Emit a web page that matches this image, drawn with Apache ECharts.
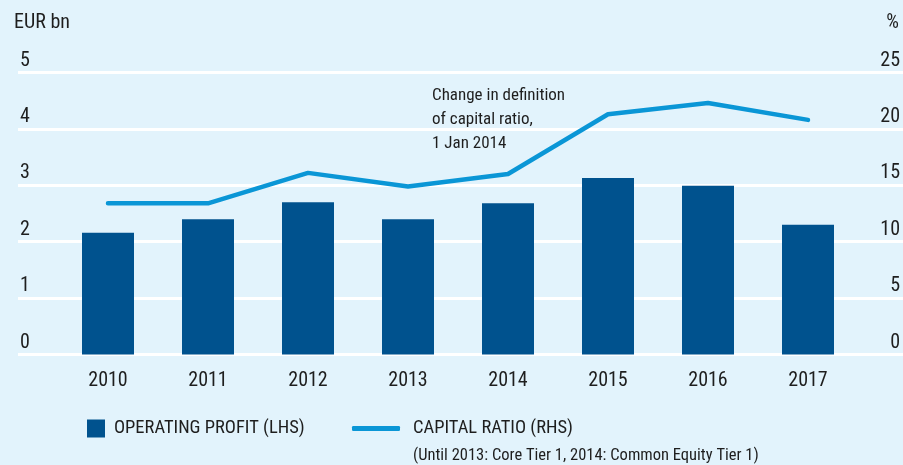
<!DOCTYPE html>
<html>
<head>
<meta charset="utf-8">
<script src="https://cdn.jsdelivr.net/npm/echarts@6/dist/echarts.min.js"></script>
<style>
  html, body { margin: 0; padding: 0; background: #e2f3fc; }
  #chart { width: 903px; height: 465px; }
</style>
</head>
<body>
<div id="chart"></div>
<script>
const years = ['2010', '2011', '2012', '2013', '2014', '2015', '2016', '2017'];
const operatingProfit = [2.16, 2.40, 2.70, 2.40, 2.68, 3.13, 2.99, 2.30];
const capitalRatio = [13.4, 13.4, 16.1, 14.9, 16.0, 21.3, 22.3, 20.8];

const FONT = "'Roboto Condensed', 'DejaVu Sans Condensed', 'Liberation Sans Narrow', Roboto, sans-serif";
const TEXT = '#1e1e1e';
const BAR = '#00528e';
const LINE = '#0a96d6';

const chart = echarts.init(document.getElementById('chart'));

const option = {
  backgroundColor: '#e2f3fc',
  textStyle: { fontFamily: FONT, color: TEXT },
  animation: false,
  grid: [
    // data grid
    { left: 58, right: 45, top: 72.5, bottom: 110.5 },
    // background grid: gridlines + value labels span the full width
    { left: 18, right: 0, top: 72.5, bottom: 110.5 }
  ],
  xAxis: [
    {
      type: 'category',
      gridIndex: 0,
      data: years,
      axisLine: { show: false },
      axisTick: { show: false },
      axisLabel: { color: TEXT, fontFamily: FONT, fontSize: 20, margin: 16 }
    },
    { type: 'value', gridIndex: 1, min: 0, max: 1, show: false }
  ],
  yAxis: [
    { type: 'value', gridIndex: 0, min: 0, max: 5, interval: 1, show: false },
    { type: 'value', gridIndex: 0, min: 0, max: 25, interval: 5, show: false },
    {
      type: 'value', gridIndex: 1, min: 0, max: 5, interval: 1,
      axisLine: { show: false }, axisTick: { show: false },
      splitLine: { lineStyle: { color: '#ffffff', width: 3 } },
      axisLabel: {
        inside: true, margin: 2, color: TEXT, fontFamily: FONT, fontSize: 20,
        verticalAlign: 'bottom', lineHeight: 20, padding: [0, 0, 2, 0]
      }
    },
    {
      type: 'value', gridIndex: 1, min: 0, max: 25, interval: 5, position: 'right',
      axisLine: { show: false }, axisTick: { show: false },
      splitLine: { show: false },
      axisLabel: {
        inside: true, margin: 3, color: TEXT, fontFamily: FONT, fontSize: 20,
        verticalAlign: 'bottom', lineHeight: 20, padding: [0, 0, 2, 0]
      }
    }
  ],
  legend: [
    {
      data: ['OPERATING PROFIT (LHS)'],
      left: 87, top: 419, padding: 0,
      icon: 'rect', itemWidth: 18, itemHeight: 18,
      textStyle: { color: TEXT, fontFamily: FONT, fontSize: 18.5, padding: [0, 0, 0, 4] }
    },
    {
      data: ['CAPITAL RATIO (RHS)'],
      left: 352, top: 419, padding: 0,
      icon: 'roundRect', itemWidth: 48, itemHeight: 5,
      textStyle: { color: TEXT, fontFamily: FONT, fontSize: 18.5, padding: [0, 0, 0, 8] }
    }
  ],
  graphic: [
    { type: 'text', left: 14, top: 13, style: { text: 'EUR bn', font: '20px ' + FONT, fill: TEXT } },
    { type: 'text', right: 4, top: 13, style: { text: '%', font: '20px ' + FONT, fill: TEXT } },
    {
      type: 'text', left: 432, top: 84,
      style: {
        text: 'Change in definition\nof capital ratio,\n1 Jan 2014',
        font: '17px ' + FONT, lineHeight: 24, fill: TEXT
      }
    },
    {
      type: 'text', left: 413, top: 447,
      style: {
        text: '(Until 2013: Core Tier 1, 2014: Common Equity Tier 1)',
        font: '16.5px ' + FONT, fill: TEXT
      }
    }
  ],
  series: [
    {
      name: 'OPERATING PROFIT (LHS)',
      type: 'bar',
      xAxisIndex: 0, yAxisIndex: 0,
      barWidth: 52,
      itemStyle: { color: BAR },
      data: operatingProfit
    },
    {
      name: 'CAPITAL RATIO (RHS)',
      type: 'line',
      xAxisIndex: 0, yAxisIndex: 1,
      showSymbol: false,
      itemStyle: { color: LINE },
      lineStyle: { color: LINE, width: 4.5, cap: 'round', join: 'round' },
      data: capitalRatio
    }
  ]
};

chart.setOption(option);
</script>
</body>
</html>
